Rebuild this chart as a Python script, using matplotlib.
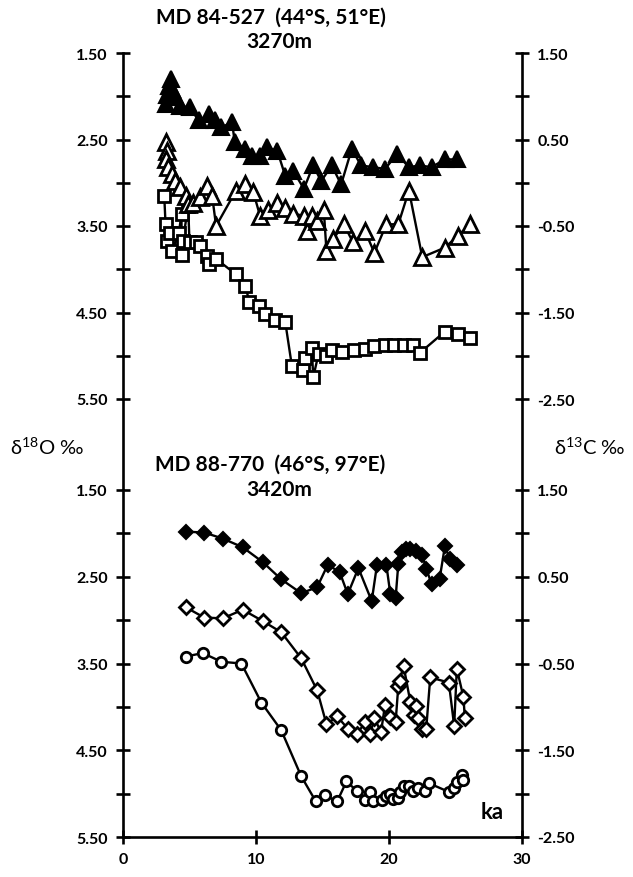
import matplotlib
matplotlib.use("Agg")
import matplotlib.pyplot as plt
from matplotlib.lines import Line2D
import numpy as np

plt.rcParams['font.family'] = ['Lato', 'DejaVu Sans']
plt.rcParams['mathtext.default'] = 'regular'

# ---------------- MD 84-527 (top) ----------------
top_c13_fill_age = [3.2, 3.3, 3.45, 3.6, 3.7, 4.0, 4.3, 5.0, 5.7, 6.5, 6.9, 7.4, 8.2, 8.4, 9.2, 9.7,
                    10.3, 10.8, 11.6, 12.2, 12.8, 13.6, 14.3, 14.9, 15.7, 16.4, 17.2, 17.9, 18.8,
                    19.7, 20.6, 21.5, 22.3, 23.2, 24.2, 25.1]
top_c13_fill = [0.91, 1.01, 1.12, 1.20, 1.08, 0.99, 0.89, 0.87, 0.72, 0.79, 0.72, 0.64, 0.70, 0.47,
                0.39, 0.31, 0.31, 0.41, 0.37, 0.08, 0.14, -0.07, 0.20, 0.02, 0.20, -0.02, 0.39, 0.20,
                0.18, 0.16, 0.33, 0.18, 0.20, 0.18, 0.27, 0.27]

top_c13_open_age = [3.2, 3.3, 3.25, 3.4, 3.7, 3.9, 4.3, 4.7, 4.9, 5.3, 5.8, 6.3, 6.7, 7.0, 8.5, 9.2,
                    9.8, 10.3, 10.9, 11.6, 12.2, 12.8, 13.6, 13.8, 14.2, 14.6, 15.1, 15.3, 15.8, 16.6,
                    17.3, 18.2, 18.9, 19.8, 20.7, 21.5, 22.5, 24.2, 25.2, 26.1]
top_c13_open = [0.47, 0.37, 0.27, 0.18, 0.10, 0.02, -0.05, -0.15, -0.25, -0.23, -0.17, -0.04, -0.15,
                -0.50, -0.09, -0.02, -0.11, -0.38, -0.31, -0.23, -0.29, -0.36, -0.38, -0.56, -0.38,
                -0.44, -0.32, -0.79, -0.65, -0.48, -0.69, -0.56, -0.81, -0.48, -0.48, -0.09, -0.86,
                -0.75, -0.61, -0.48]

top_o18_age = [3.1, 3.2, 3.3, 3.5, 3.7, 4.2, 4.4, 4.4, 4.5, 4.9, 5.0, 5.5, 5.8, 6.3, 6.5, 7.0, 8.5,
               9.2, 9.5, 10.2, 10.7, 11.4, 12.2, 12.7, 13.5, 13.7, 14.2, 14.3, 14.7, 15.3, 15.7,
               16.5, 17.4, 18.2, 18.9, 19.7, 20.4, 21.1, 21.8, 22.3, 24.2, 25.2, 26.1]
top_o18 = [3.15, 3.48, 3.67, 3.58, 3.79, 3.58, 3.36, 3.83, 3.67, 3.27, 3.69, 3.69, 3.73, 3.85, 3.94,
           3.88, 4.06, 4.19, 4.38, 4.42, 4.52, 4.59, 4.61, 5.12, 5.17, 5.03, 4.91, 5.25, 4.98, 5.00,
           4.93, 4.96, 4.93, 4.92, 4.89, 4.88, 4.88, 4.88, 4.88, 4.97, 4.72, 4.75, 4.80]

# ---------------- MD 88-770 (bottom) ----------------
bot_c13_fill_age = [4.7, 6.1, 7.5, 9.0, 10.5, 11.9, 13.4, 14.6, 15.4, 16.3, 16.9, 17.7, 18.7, 19.1,
                    19.8, 20.1, 20.5, 20.7, 21.0, 21.3, 21.6, 22.0, 22.5, 22.8, 23.2, 23.8, 24.2,
                    24.6, 25.1]
bot_c13_fill = [1.02, 1.01, 0.94, 0.84, 0.67, 0.47, 0.31, 0.38, 0.64, 0.55, 0.30, 0.60, 0.22, 0.64,
                0.64, 0.30, 0.26, 0.65, 0.78, 0.82, 0.82, 0.80, 0.75, 0.59, 0.42, 0.47, 0.85, 0.70,
                0.63]

bot_c13_open_age = [4.7, 6.1, 7.5, 9.0, 10.5, 11.9, 13.4, 14.6, 15.3, 16.1, 16.9, 17.6, 18.2, 18.6,
                    18.9, 19.4, 19.7, 20.1, 20.5, 20.7, 20.8, 21.1, 21.6, 21.9, 22.0, 22.2, 22.5,
                    22.8, 23.1, 24.5, 24.9, 25.1, 25.6, 25.7]
bot_c13_open = [0.15, 0.03, 0.02, 0.12, -0.01, -0.14, -0.44, -0.81, -1.20, -1.11, -1.25, -1.31,
                -1.18, -1.31, -1.13, -1.29, -0.98, -1.12, -1.17, -0.76, -0.70, -0.53, -0.94, -1.09,
                -0.99, -1.13, -1.25, -1.25, -0.66, -0.72, -1.22, -0.56, -0.89, -1.13]

bot_o18_age = [4.7, 6.0, 7.4, 8.9, 10.4, 11.9, 13.4, 14.5, 15.2, 16.1, 16.8, 17.6, 18.2, 18.6, 18.8,
               19.5, 19.8, 20.1, 20.3, 20.7, 20.8, 21.1, 21.5, 21.8, 22.2, 22.7, 23.0, 24.5, 24.9,
               25.1, 25.5, 25.6]
bot_o18 = [3.42, 3.38, 3.48, 3.50, 3.95, 4.27, 4.80, 5.09, 5.02, 5.09, 4.86, 4.97, 5.07, 4.98, 5.09,
           5.07, 5.03, 5.00, 5.06, 5.05, 4.98, 4.91, 4.91, 4.97, 4.94, 4.97, 4.88, 4.98, 4.93, 4.87,
           4.79, 4.84]

o18_major = [1.5, 2.5, 3.5, 4.5, 5.5]
o18_minor = [2.0, 3.0, 4.0, 5.0]
c13_major = [1.5, 0.5, -0.5, -1.5, -2.5]
c13_minor = [1.0, 0.0, -1.0, -2.0]
x_ticks = [0, 10, 20, 30]

W_PX, H_PX = 633, 878
fig = plt.figure(figsize=(W_PX / 100, H_PX / 100), dpi=100)

L = 123 / W_PX
R = 522 / W_PX
W = R - L
top_t, top_b = 1 - 54 / H_PX, 1 - 400 / H_PX
bot_t, bot_b = 1 - 491 / H_PX, 1 - 838 / H_PX

ax1 = fig.add_axes([L, top_b, W, top_t - top_b])
ax2 = fig.add_axes([L, bot_b, W, bot_t - bot_b])

LW = 1.9
TICKFS = 11.5
kw_line = dict(color='black', lw=1.7, clip_on=False)

for ax, fill_age, fill, open_age, open_, o_age, o_val, fill_m, open_m, o_m in [
        (ax1, top_c13_fill_age, top_c13_fill, top_c13_open_age, top_c13_open, top_o18_age, top_o18, '^', '^', 's'),
        (ax2, bot_c13_fill_age, bot_c13_fill, bot_c13_open_age, bot_c13_open, bot_o18_age, bot_o18, 'D', 'D', 'o')]:
    ax.set_xlim(0, 30)
    ax.set_ylim(5.5, 1.5)
    axr = ax.twinx()
    axr.set_ylim(-2.5, 1.5)
    ax.patch.set_visible(False)

    big = 11 if fill_m == '^' else 7.5
    osz = 8.5 if o_m == 's' else 7.5
    axr.plot(fill_age, fill, marker=fill_m, ms=big, mfc='black', mec='black', mew=1.5, **kw_line)
    axr.plot(open_age, open_, marker=open_m, ms=big, mfc='white', mec='black', mew=2.0, **kw_line)
    ax.plot(o_age, o_val, marker=o_m, ms=osz, mfc='white', mec='black', mew=2.0, **kw_line)

    for a in (ax, axr):
        for s in a.spines.values():
            s.set_visible(False)
    ax.spines['left'].set_visible(True)
    ax.spines['left'].set_linewidth(LW)
    axr.spines['right'].set_visible(True)
    axr.spines['right'].set_linewidth(LW)

    ax.set_yticks(o18_major)
    ax.set_yticklabels([f"{v:.2f}" for v in o18_major])
    ax.set_yticks(o18_minor, minor=True)
    axr.set_yticks(c13_major)
    axr.set_yticklabels([f"{v:.2f}" for v in c13_major])
    axr.set_yticks(c13_minor, minor=True)
    for a in (ax, axr):
        a.tick_params(axis='y', which='both', direction='inout', length=10, width=LW,
                      labelsize=TICKFS, pad=6)
        for lab in a.get_yticklabels():
            lab.set_fontweight('bold')

ax1.set_xticks([])
ax2.set_xticks(x_ticks)
ax2.set_xticklabels([str(v) for v in x_ticks])
ax2.spines['bottom'].set_visible(True)
ax2.spines['bottom'].set_linewidth(LW)
ax2.tick_params(axis='x', which='both', direction='inout', length=10, width=LW,
                labelsize=TICKFS, pad=6)
for lab in ax2.get_xticklabels():
    lab.set_fontweight('bold')

# continuous left/right spines between the two panels
for xx in (L, R):
    fig.add_artist(Line2D([xx, xx], [bot_t, top_b], transform=fig.transFigure,
                          color='black', lw=LW, solid_capstyle='butt'))

def fy(py):
    return 1 - py / H_PX

def fx(px):
    return px / W_PX

TFS = 15
fig.text(fx(271), fy(18), "MD 84-527  (44°S, 51°E)", ha='center', va='center', fontsize=TFS, fontweight='bold')
fig.text(fx(279), fy(42), "3270m", ha='center', va='center', fontsize=TFS, fontweight='bold')
fig.text(fx(270), fy(465), "MD 88-770  (46°S, 97°E)", ha='center', va='center', fontsize=TFS, fontweight='bold')
fig.text(fx(279), fy(490), "3420m", ha='center', va='center', fontsize=TFS, fontweight='bold')
fig.text(fx(47), fy(447), "δ$^{18}$O ‰", ha='center', va='center', fontsize=14.5)
fig.text(fx(590), fy(447), "δ$^{13}$C ‰", ha='center', va='center', fontsize=14.5)
fig.text(fx(492), fy(813), "ka", ha='center', va='center', fontsize=16, fontweight='bold')

fig.savefig("out.png", dpi=100)
